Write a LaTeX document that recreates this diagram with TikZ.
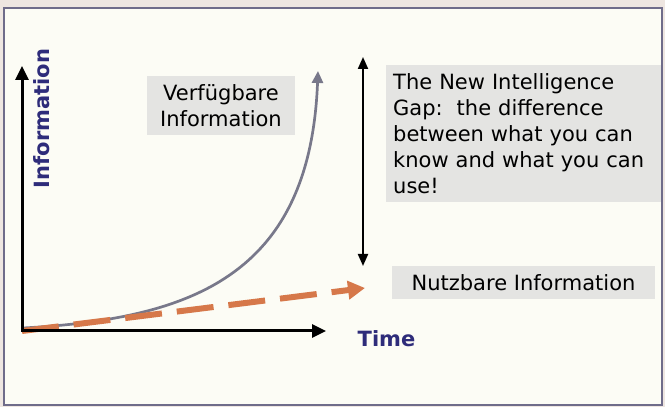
\documentclass[tikz,border=0pt]{standalone}
\usepackage{fontspec}
\setmainfont{DejaVu Sans}
\usetikzlibrary{arrows.meta}
\definecolor{pagebg}{HTML}{EEE6E1}
\definecolor{innerbg}{HTML}{FCFCF5}
\definecolor{framecol}{HTML}{6F6C8A}
\definecolor{boxgrey}{HTML}{E4E4E2}
\definecolor{infonavy}{HTML}{2E2C7A}
\definecolor{curvegrey}{HTML}{78788A}
\definecolor{usedorange}{HTML}{D6784A}
\begin{document}
\begin{tikzpicture}[x=1pt,y=1pt,
    greybox/.style={fill=boxgrey, inner sep=0pt, font=\fontsize{21}{26}\selectfont},
    axisline/.style={line width=3pt, line cap=rect, -{Triangle[length=14pt,width=13pt]}},
    axislabel/.style={text=infonavy, font=\fontsize{21}{26}\selectfont\bfseries}]
        \useasboundingbox (0,0) rectangle (665,407);
        %page and frame
        \fill[pagebg] (0,0) rectangle (665,407);
        \draw[framecol, line width=1.5pt, fill=innerbg] (4,2) rectangle (662,399);

        %coordinates
        \coordinate (O) at (22,76);
        \coordinate (yend) at (22,341);
        \coordinate (xend) at (326,76);
        \coordinate (availend) at (318,336);
        \coordinate (gaptop) at (363,350);
        \coordinate (gapbot) at (363,141);
        \coordinate (usedend) at (365,119);

        %boxes
        \node[greybox, minimum width=148, minimum height=59, align=center] (avail) at (221,301.5) {Verfügbare\\Information};
        \node[greybox, anchor=north west, minimum width=275, minimum height=137, text width=261, inner xsep=7, align=left] (gap) at (386,342)
            {The New Intelligence\\Gap:\ \ the difference\\between what you can\\know and what you can\\use!};
        \node[greybox, minimum width=263, minimum height=33] (usable) at (523.5,124.5) {Nutzbare Information};

        %curves
        \draw[curvegrey, line width=2.7pt, -{Triangle[length=12pt,width=11pt]}] (23,79) .. controls (190,88) and (310,130) .. (availend);
        \draw[usedorange, line width=6pt, dash pattern=on 37pt off 15pt, -{Triangle[length=17pt,width=18pt]}] (O) -- (usedend);

        %gap arrow
        \draw[line width=2pt, {Triangle[length=12pt,width=10pt]}-{Triangle[length=12pt,width=10pt]}] (gaptop) -- (gapbot);

        %axes
        \draw[axisline] (O) -- (yend);
        \draw[axisline] (O) -- (xend);
        \node[axislabel, rotate=90, anchor=base] (infolabel) at (50,288.5) {Information};
        \node[axislabel, anchor=base] (timelabel) at (386.5,60) {Time};

    \end{tikzpicture}
\end{document}
